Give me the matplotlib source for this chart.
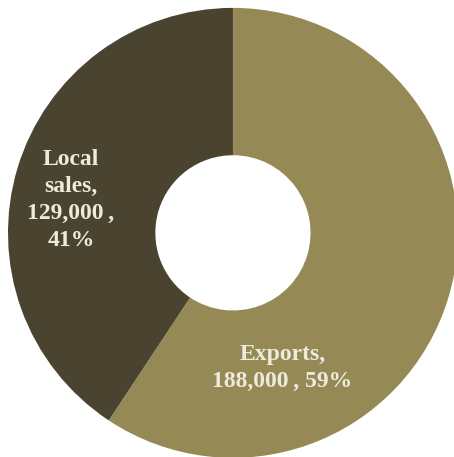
import matplotlib.pyplot as plt

labels = ["Exports", "Local\nsales"]
values = [188000, 129000]
colors = ["#958A56", "#4A4330"]
label_pos = [(0.22, -0.60), (-0.72, 0.145)]

total = sum(values)

fig = plt.figure(figsize=(4.54, 4.57), dpi=100)
ax = fig.add_axes([0.0176, -0.002, 0.991, 0.985])

ax.pie(values, colors=colors, startangle=90, counterclock=False,
       radius=1.0, wedgeprops=dict(width=0.655, linewidth=0))

for name, v, (x, y) in zip(labels, values, label_pos):
    pct = round(100 * v / total)
    if name.startswith("Local"):
        txt = f"{name},\n{v:,}\u2009,\n{pct}%"
    else:
        txt = f"{name},\n{v:,}\u2009, {pct}%"
    ax.text(x, y, txt, ha="center", va="center", color="#EEEBDD",
            fontsize=17, fontweight="bold", family="Liberation Serif",
            linespacing=1.38)

ax.set_xlim(-1, 1)
ax.set_ylim(-1, 1)
ax.set_aspect("equal")
ax.axis("off")

fig.savefig("out.png", dpi=100)
